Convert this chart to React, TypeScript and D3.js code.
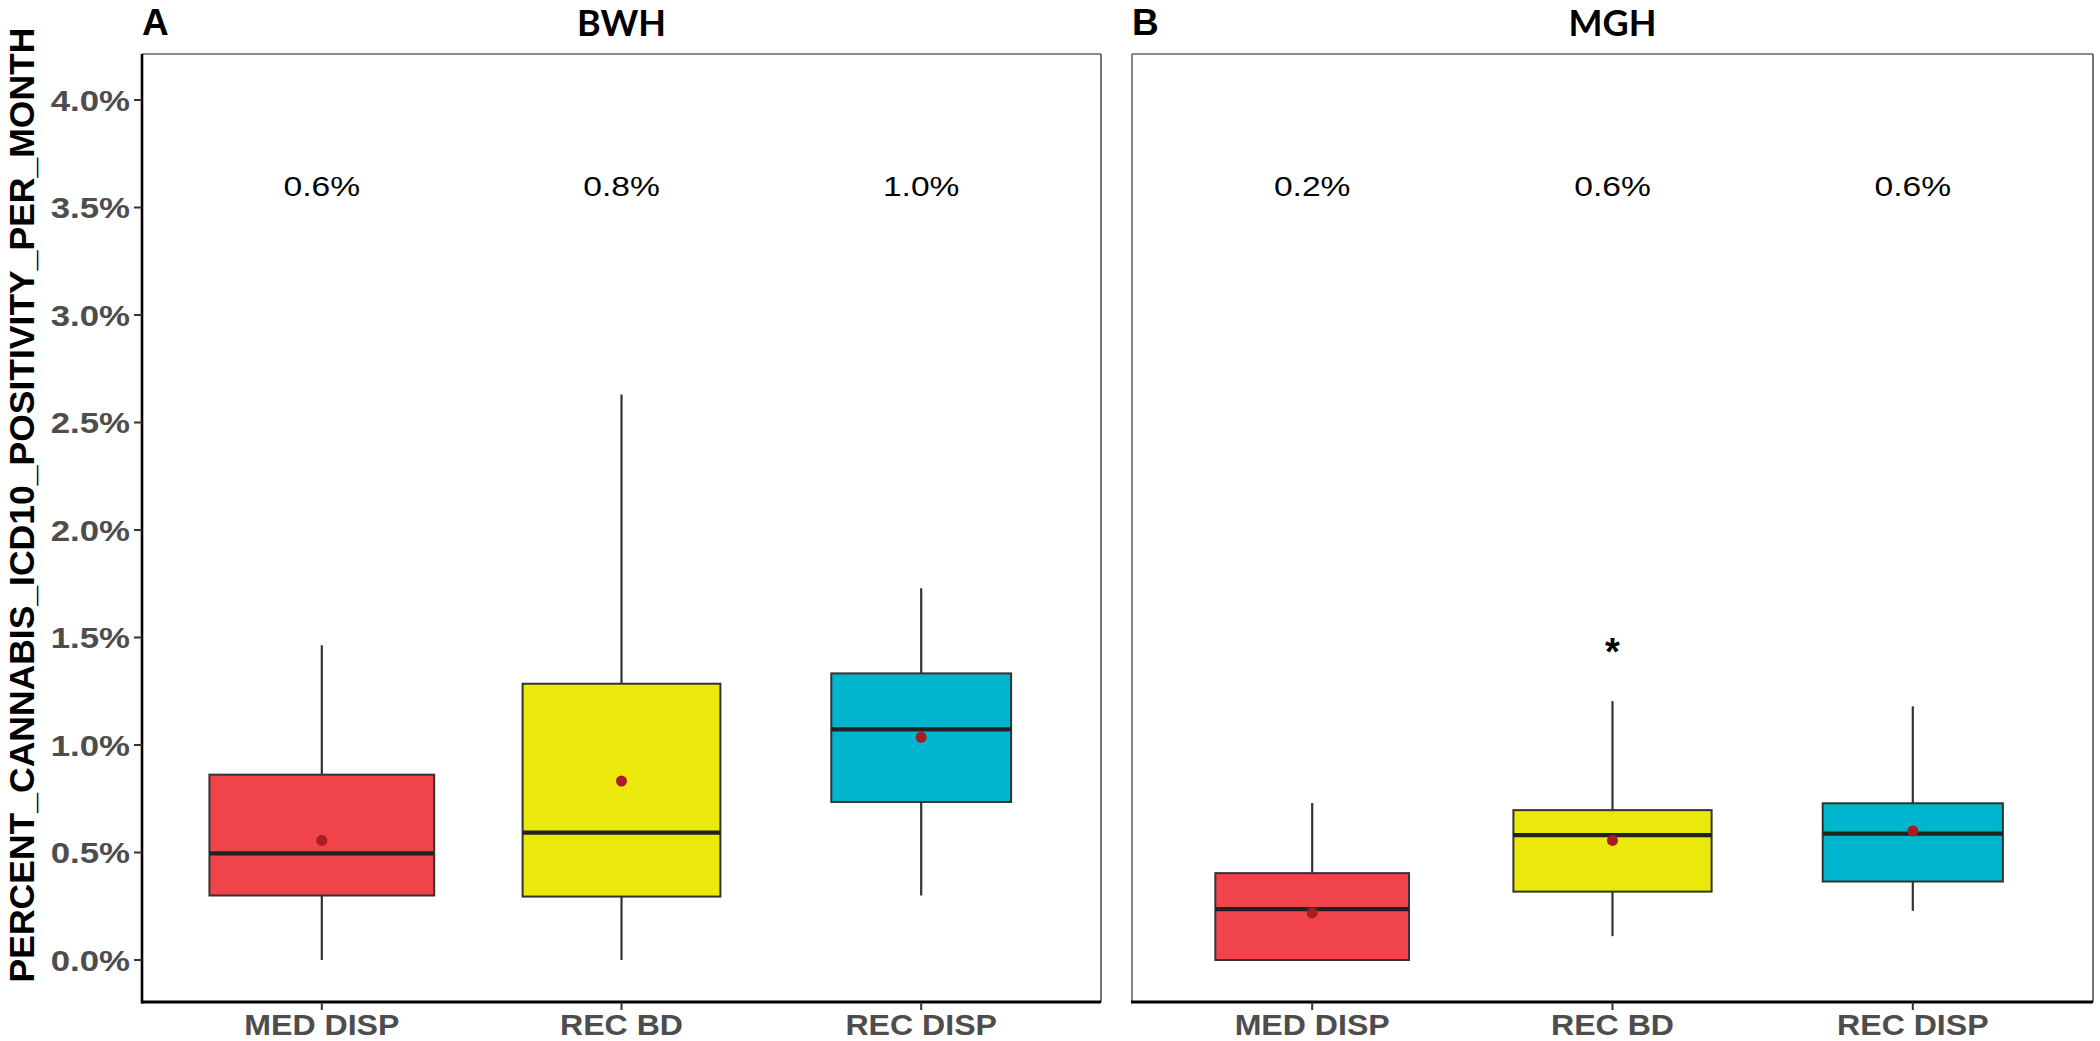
import React, { useEffect } from "react";
import * as d3 from "d3";

// ---------- data ----------
const CATEGORIES = ["MED DISP", "REC BD", "REC DISP"];
const CATEGORY_FILLS = ["#F0444A", "#EBE80C", "#00B5CE"];
const Y_TICKS = [0, 0.5, 1, 1.5, 2, 2.5, 3, 3.5, 4];

const BWH_WHISKER_LOW = [0.0, 0.0, 0.3];
const BWH_Q1 = [0.3, 0.295, 0.735];
const BWH_MEDIAN = [0.496, 0.592, 1.073];
const BWH_Q3 = [0.862, 1.285, 1.333];
const BWH_WHISKER_HIGH = [1.464, 2.63, 1.729];
const BWH_MEAN = [0.556, 0.832, 1.036];
const BWH_REL_WIDTH = [0.75, 0.66, 0.6];
const BWH_TOP_LABELS = ["0.6%", "0.8%", "1.0%"];
const BWH_SIGNIF = ["", "", ""];

const MGH_WHISKER_LOW = [0.0, 0.111, 0.229];
const MGH_Q1 = [0.0, 0.318, 0.365];
const MGH_MEDIAN = [0.237, 0.581, 0.588];
const MGH_Q3 = [0.404, 0.697, 0.729];
const MGH_WHISKER_HIGH = [0.73, 1.204, 1.18];
const MGH_MEAN = [0.219, 0.556, 0.6];
const MGH_REL_WIDTH = [0.645, 0.66, 0.6];
const MGH_TOP_LABELS = ["0.2%", "0.6%", "0.6%"];
const MGH_SIGNIF = ["", "*", ""];
const SIGNIF_Y = 1.46;
const TOP_LABEL_Y = 3.6;

const Y_LABEL = "PERCENT_CANNABIS_ICD10_POSITIVITY_PER_MONTH";

type Panel = {
  tag: string;
  title: string;
  low: number[];
  q1: number[];
  med: number[];
  q3: number[];
  high: number[];
  mean: number[];
  rel: number[];
  labels: string[];
  signif: string[];
};

const PANELS: Panel[] = [
  { tag: "A", title: "BWH", low: BWH_WHISKER_LOW, q1: BWH_Q1, med: BWH_MEDIAN, q3: BWH_Q3, high: BWH_WHISKER_HIGH, mean: BWH_MEAN, rel: BWH_REL_WIDTH, labels: BWH_TOP_LABELS, signif: BWH_SIGNIF },
  { tag: "B", title: "MGH", low: MGH_WHISKER_LOW, q1: MGH_Q1, med: MGH_MEDIAN, q3: MGH_Q3, high: MGH_WHISKER_HIGH, mean: MGH_MEAN, rel: MGH_REL_WIDTH, labels: MGH_TOP_LABELS, signif: MGH_SIGNIF },
];

// ---------- layout ----------
const W = 2100;
const H = 1041;
const PANEL_TOP = 54;
const PANEL_BOTTOM = 1002;
const PANEL_X = [
  [142, 1101],
  [1132, 2093],
];
const SANS = "'Liberation Sans', Arial, sans-serif";
const TITLE_FONT = "Lato, 'Open Sans', sans-serif";

export default function App() {
  useEffect(() => {
    document.body.style.margin = "0";
  }, []);

  const y = d3.scaleLinear().domain([0, 4]).range([960, 100]);
  const fmt = d3.format(".1f");

  return (
    <svg width={W} height={H} style={{ display: "block", background: "#fff" }}>
      <rect x={0} y={0} width={W} height={H} fill="#fff" />
      {PANELS.map((p, pi) => {
        const [x0, x1] = PANEL_X[pi];
        const x = d3.scaleBand().domain(CATEGORIES).range([x0, x1]).paddingOuter(0.1).paddingInner(0);
        const unit = (x1 - x0) / 3.2;
        const cx = (c: string) => x0 + unit * (0.6 + CATEGORIES.indexOf(c));
        return (
          <g key={p.title}>
            {/* frame */}
            <line x1={x0} x2={x1} y1={PANEL_TOP} y2={PANEL_TOP} stroke="#666" strokeWidth={1.6} />
            <line x1={x1} x2={x1} y1={PANEL_TOP} y2={PANEL_BOTTOM} stroke="#555" strokeWidth={1.6} />
            {pi === 0 ? (
              <line x1={x0} x2={x0} y1={PANEL_TOP} y2={PANEL_BOTTOM + 1.5} stroke="#000" strokeWidth={2.6} />
            ) : (
              <line x1={x0} x2={x0} y1={PANEL_TOP} y2={PANEL_BOTTOM} stroke="#666" strokeWidth={1.6} />
            )}
            <line x1={x0 - 1} x2={x1} y1={PANEL_BOTTOM} y2={PANEL_BOTTOM} stroke="#000" strokeWidth={2.8} />

            {/* titles */}
            <text x={x0} y={35} fontFamily={SANS} fontWeight={700} fontSize={37} fill="#000">
              {p.tag}
            </text>
            <text x={(x0 + x1) / 2} y={36} textAnchor="middle" fontFamily={TITLE_FONT} fontWeight={700} fontSize={36} fill="#000">
              {p.title}
            </text>

            {/* y axis (left panel only) */}
            {pi === 0 &&
              Y_TICKS.map((t) => (
                <g key={t}>
                  <line x1={x0 - 8} x2={x0} y1={y(t)} y2={y(t)} stroke="#333" strokeWidth={2} />
                  <g transform={`translate(${x0 - 12}, ${y(t)}) scale(1.16, 1)`}>
                    <text x={0} y={0} dy="0.36em" textAnchor="end" fontFamily={SANS} fontWeight={700} fontSize={30} fill="#4D4D4D">
                      {fmt(t) + "%"}
                    </text>
                  </g>
                </g>
              ))}

            {/* x axis */}
            {CATEGORIES.map((c) => (
              <g key={c}>
                <line x1={cx(c)} x2={cx(c)} y1={PANEL_BOTTOM} y2={PANEL_BOTTOM + 8} stroke="#333" strokeWidth={2} />
                <g transform={`translate(${cx(c)}, ${PANEL_BOTTOM + 33}) scale(1.07, 1)`}>
                  <text x={0} y={0} textAnchor="middle" fontFamily={SANS} fontWeight={700} fontSize={30} fill="#4D4D4D">
                    {c}
                  </text>
                </g>
              </g>
            ))}

            {/* boxes */}
            {CATEGORIES.map((c, i) => {
              const xc = cx(c);
              const bw = p.rel[i] * x.bandwidth();
              return (
                <g key={"b" + c}>
                  <line x1={xc} x2={xc} y1={y(p.q3[i])} y2={y(p.high[i])} stroke="#333" strokeWidth={2.2} />
                  <line x1={xc} x2={xc} y1={y(p.q1[i])} y2={y(p.low[i])} stroke="#333" strokeWidth={2.2} />
                  <rect
                    x={xc - bw / 2}
                    y={y(p.q3[i])}
                    width={bw}
                    height={y(p.q1[i]) - y(p.q3[i])}
                    fill={CATEGORY_FILLS[i]}
                    stroke="#333"
                    strokeWidth={2}
                  />
                  <line x1={xc - bw / 2} x2={xc + bw / 2} y1={y(p.med[i])} y2={y(p.med[i])} stroke="#222" strokeWidth={4.2} />
                  <circle cx={xc} cy={y(p.mean[i])} r={5.5} fill="#A81C22" />
                  <g transform={`translate(${xc}, ${y(TOP_LABEL_Y)}) scale(1.2, 1)`}>
                    <text x={0} y={0} dy="0.36em" textAnchor="middle" fontFamily={SANS} fontSize={28} fill="#000">
                      {p.labels[i]}
                    </text>
                  </g>
                  {p.signif[i] && (
                    <text x={xc} y={y(SIGNIF_Y)} dy="0.5em" textAnchor="middle" fontFamily={SANS} fontWeight={700} fontSize={38} fill="#000">
                      {p.signif[i]}
                    </text>
                  )}
                </g>
              );
            })}
          </g>
        );
      })}

      {/* y axis title */}
      <text
        transform={`translate(34, 505) rotate(-90)`}
        textAnchor="middle"
        fontFamily={SANS}
        fontWeight={700}
        fontSize={35.5}
        fill="#000"
      >
        {Y_LABEL}
      </text>
    </svg>
  );
}
